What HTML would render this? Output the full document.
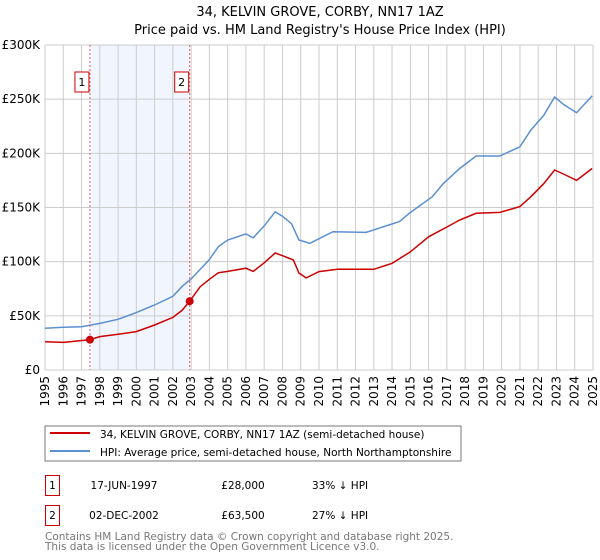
<!DOCTYPE html>
<html><head><meta charset="utf-8"><style>
body{margin:0;background:#fff;font-family:"DejaVu Sans","Liberation Sans",sans-serif;}
svg{display:block}
</style></head><body>
<svg id="chart" width="600" height="560" xmlns="http://www.w3.org/2000/svg" font-family="DejaVu Sans, Liberation Sans, sans-serif">
<text x="320" y="16" font-size="13" text-anchor="middle">34, KELVIN GROVE, CORBY, NN17 1AZ</text>
<text x="320" y="34" font-size="13" text-anchor="middle">Price paid vs. HM Land Registry's House Price Index (HPI)</text>
<g id="grid"></g><g id="marks"></g><g id="axes"></g>
<g>
<rect x="45" y="426" width="416" height="35" fill="#fff" stroke="#777"/>
<line x1="50" y1="433" x2="90" y2="433" stroke="#cc0000" stroke-width="2"/>
<text x="100" y="438" font-size="10.5">34, KELVIN GROVE, CORBY, NN17 1AZ (semi-detached house)</text>
<line x1="50" y1="451" x2="90" y2="451" stroke="#5b8fd0" stroke-width="2"/>
<text x="100" y="456" font-size="10.5">HPI: Average price, semi-detached house, North Northamptonshire</text>
</g>
<g font-size="10.5">
<rect x="45.5" y="475.5" width="14" height="20" fill="#fff" stroke="#cc0000"/>
<text x="52.5" y="489" text-anchor="middle">1</text>
<text x="124" y="489" text-anchor="middle">17-JUN-1997</text>
<text x="243" y="489" text-anchor="middle">£28,000</text>
<text x="312" y="489">33% ↓ HPI</text>
<rect x="45.5" y="505.5" width="14" height="20" fill="#fff" stroke="#cc0000"/>
<text x="52.5" y="519" text-anchor="middle">2</text>
<text x="124" y="519" text-anchor="middle">02-DEC-2002</text>
<text x="243" y="519" text-anchor="middle">£63,500</text>
<text x="312" y="519">27% ↓ HPI</text>
</g>
<text x="45" y="540" font-size="10.5" fill="#777">Contains HM Land Registry data © Crown copyright and database right 2025.</text>
<text x="45" y="550" font-size="10.5" fill="#777">This data is licensed under the Open Government Licence v3.0.</text>
</svg>
<script>
const hpiYears=[1995,1996,1997,1998,1999,2000,2001,2002,2002.5,2003,2004,2004.5,2005,2006,2006.4,2007,2007.6,2008,2008.5,2008.9,2009.5,2010.76,2012.58,2014.4,2014.97,2016.2,2016.8,2017.7,2018.6,2019.9,2021,2021.6,2022.3,2022.9,2023.4,2024.1,2024.95];
const hpiValues=[38.5,39.5,40,43,46.8,53,60,68,77,84,102,114,120,125.6,122,133,146,142,135,120,117,127.7,127,137,145,160,172,186,197.5,197.5,206,221.5,235,252,245,237.5,253];
const priceYears=[1995,1996,1997.46,1998,1999,2000,2001,2002,2002.5,2002.92,2003.5,2004,2004.5,2005,2006,2006.4,2007,2007.6,2008,2008.6,2008.9,2009.3,2010,2011,2012,2013,2014,2015,2016,2017,2017.7,2018.6,2019.9,2021,2021.6,2022.3,2022.9,2023.5,2024.1,2024.95];
const priceValues=[26,25.5,28,30.8,33,35.4,41.5,48.6,55,63.5,77,83.7,89.8,91,94,91,99,108,105.5,101.5,89.5,85,90.8,93,93,93,98.5,109,123,132,138.5,144.6,145.5,150.8,160,172,184.6,180,175,186];
const saleYears=[1997.46,2002.92];
const saleValues=[28,63.5];
const saleLabels=["1","2"];
const yTicks=[0,50,100,150,200,250,300];
const yTickLabels=["£0","£50K","£100K","£150K","£200K","£250K","£300K"];
const xTicks=[1995,1996,1997,1998,1999,2000,2001,2002,2003,2004,2005,2006,2007,2008,2009,2010,2011,2012,2013,2014,2015,2016,2017,2018,2019,2020,2021,2022,2023,2024,2025];

const X0=45,X1=593,Y0=370,Y1=45;
const xs=y=>X0+(y-1995)/30*(X1-X0);
const ys=v=>Y0-v/300*(Y0-Y1);
const NS="http://www.w3.org/2000/svg";
function mk(tag,attrs,parent){const e=document.createElementNS(NS,tag);for(const k in attrs)e.setAttribute(k,attrs[k]);parent.appendChild(e);return e;}
const grid=document.getElementById('grid'),marks=document.getElementById('marks'),axes=document.getElementById('axes');
let sh=mk('rect',{x:xs(saleYears[0]),y:Y1,width:xs(saleYears[1])-xs(saleYears[0]),height:Y0-Y1,fill:'#eef3fc',opacity:0.8},grid);


yTicks.forEach((t,i)=>{
  const l=mk('line',{x1:X0,x2:X1,y1:ys(t),y2:ys(t),stroke:'#ccc'},grid);
  
  
  const tx=mk('text',{x:X0-5,y:ys(t)+4,'font-size':12,'text-anchor':'end'},axes);
  tx.textContent=yTickLabels[i];
  
  
});
xTicks.forEach(t=>{
  const l=mk('line',{x1:xs(t),x2:xs(t),y1:Y1,y2:Y0,stroke:'#ccc'},grid);
  
  
  const tx=mk('text',{x:0,y:0,'font-size':12,'text-anchor':'end',transform:`translate(${xs(t)+4},${Y0+6}) rotate(-90)`},axes);
  tx.textContent=t;
  
  
});
const pts=(xa,va)=>xa.map((y,i)=>xs(y).toFixed(1)+','+ys(va[i]).toFixed(1)).join(' ');
const hl=mk('polyline',{points:pts(hpiYears,hpiValues),fill:'none',stroke:'#5b8fd0','stroke-width':1.5},marks);


const pl=mk('polyline',{points:pts(priceYears,priceValues),fill:'none',stroke:'#cc0000','stroke-width':1.5},marks);


saleYears.forEach((y,i)=>{
  const v=mk('line',{x1:xs(y),x2:xs(y),y1:Y1,y2:Y0,stroke:'#e06060','stroke-dasharray':'2,2'},marks);
  
  
  const c=mk('circle',{cx:xs(y),cy:ys(saleValues[i]),r:4,fill:'#cc0000'},marks);
  
  
  const b=mk('rect',{x:xs(y)-15,y:72,width:14,height:20,fill:'#fff',stroke:'#cc0000'},marks);
  
  
  const t=mk('text',{x:xs(y)-8,y:86,'font-size':11,'text-anchor':'middle'},marks);
  t.textContent=saleLabels[i];
  
  
});
</script>
</body></html>
